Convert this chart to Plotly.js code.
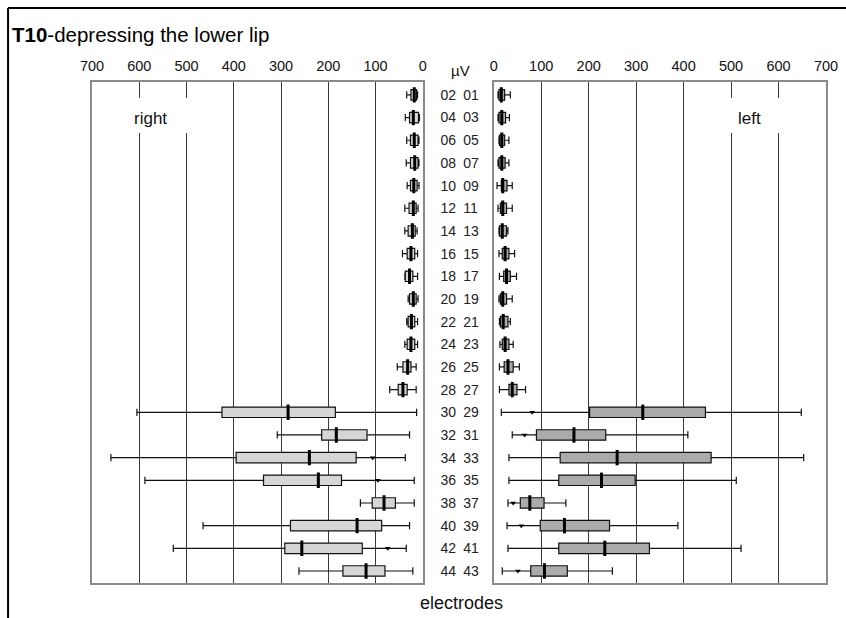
<!DOCTYPE html>
<html>
<head>
<meta charset="utf-8">
<script src="https://cdn.plot.ly/plotly-3.0.1.min.js"></script>
<style>html,body{margin:0;padding:0;background:#fff;}#chart{width:846px;height:618px;}</style>
</head>
<body>
<div id="chart"></div>
<script>
// electrode pair labels (top to bottom)
const categories = ["02 01","04 03","06 05","08 07","10 09","12 11","14 13","16 15","18 17","20 19","22 21",
  "24 23","26 25","28 27","30 29","32 31","34 33","36 35","38 37","40 39","42 41","44 43"];

// "right" side (left panel) box statistics, µV
const rightMin = [11, 7, 8, 8, 8, 10, 12, 11, 11, 10, 11, 11, 14, 14, 13, 28, 37, 18, 18, 28, 35, 21];
const rightQ1  = [13, 9, 10, 10, 12, 14, 16, 17, 21, 14, 17, 17, 25, 33, 185, 118, 141, 172, 58, 87, 128, 80];
const rightMed = [18, 20, 18, 17, 19, 20, 22, 25, 28, 20, 24, 25, 32, 42, 285, 183, 240, 221, 82, 139, 256, 120];
const rightQ3  = [25, 28, 26, 26, 26, 29, 31, 33, 37, 28, 31, 33, 42, 52, 425, 214, 395, 337, 107, 280, 292, 169];
const rightMax = [34, 37, 34, 35, 33, 38, 38, 43, 38, 31, 34, 38, 54, 70, 605, 308, 660, 588, 132, 465, 528, 262];
const rightDotCats = ["34 33", "36 35", "42 41"];
const rightDotVals = [106, 95, 74];

// "left" side (right panel) box statistics, µV
const leftMin = [9, 9, 11, 9, 7, 9, 11, 11, 12, 11, 12, 13, 12, 12, 16, 39, 32, 32, 30, 28, 30, 18];
const leftQ1  = [11, 11, 12, 11, 16, 14, 12, 18, 21, 14, 14, 18, 22, 32, 202, 90, 140, 137, 56, 98, 137, 78];
const leftMed = [16, 17, 17, 17, 19, 19, 18, 24, 27, 19, 20, 24, 30, 39, 314, 169, 260, 227, 76, 149, 234, 107];
const leftQ3  = [23, 25, 23, 24, 28, 27, 27, 32, 35, 27, 30, 32, 41, 49, 446, 236, 458, 298, 106, 244, 328, 155];
const leftMax = [35, 33, 32, 32, 39, 39, 30, 44, 48, 39, 35, 41, 54, 67, 648, 409, 653, 511, 152, 388, 521, 250];
const leftDotCats = ["30 29", "32 31", "38 37", "40 39", "44 43"];
const leftDotVals = [81, 65, 41, 58, 51];

const tickVals = [0, 100, 200, 300, 400, 500, 600, 700];
const tickText = ["0", "100", "200", "300", "400", "500", "600", "700"];

const FONT = "Liberation Sans, Arial, Helvetica, sans-serif";
const lineCol = "#111";

function boxTrace(xa, ya, q1, med, q3, lo, hi, fill) {
  return {
    type: "box", orientation: "h", xaxis: xa, yaxis: ya,
    y: categories, q1: q1, median: med, q3: q3, lowerfence: lo, upperfence: hi,
    fillcolor: fill, line: {color: lineCol, width: 1.2},
    width: 0.46, whiskerwidth: 0.7, boxpoints: false, hoverinfo: "skip", showlegend: false
  };
}
function medTrace(xa, ya, med) {
  return {
    type: "scatter", mode: "markers", xaxis: xa, yaxis: ya, x: med, y: categories,
    marker: {symbol: "line-ns", size: 11, line: {width: 3, color: "#000"}},
    hoverinfo: "skip", showlegend: false
  };
}
function dotTrace(xa, ya, cats, vals) {
  return {
    type: "scatter", mode: "markers", xaxis: xa, yaxis: ya, x: vals, y: cats,
    marker: {symbol: "triangle-down", size: 5, color: "#000"},
    hoverinfo: "skip", showlegend: false
  };
}

const data = [
  boxTrace("x", "y", rightQ1, rightMed, rightQ3, rightMin, rightMax, "#d6d6d6"),
  medTrace("x", "y", rightMed),
  dotTrace("x", "y", rightDotCats, rightDotVals),
  boxTrace("x2", "y2", leftQ1, leftMed, leftQ3, leftMin, leftMax, "#ababab"),
  medTrace("x2", "y2", leftMed),
  dotTrace("x2", "y2", leftDotCats, leftDotVals)
];

const xCommon = {
  side: "top", tickvals: tickVals, ticktext: tickText, ticks: "",
  tickfont: {family: FONT, size: 14.5, color: "#111"}, ticklabelstandoff: 3,
  showgrid: true, gridcolor: "#3a3a3a", gridwidth: 1, zeroline: false,
  showline: true, mirror: true, linecolor: "#8a8a8a", linewidth: 2, fixedrange: true
};
const yRange = [21.53, -0.57];
const ticksY = categories.map(c => c.replace(" ", "\u2002"));

const L = 92, R = 19.5, W = 846 - L - R;
const px = v => (v - L) / W;
const T = 82, B = 583, H = B - T;
const py = v => (B - v) / H;

const layout = {
  width: 846, height: 618,
  margin: {l: L, r: R, t: T, b: 618 - B, pad: 0},
  paper_bgcolor: "#fff", plot_bgcolor: "#fff",
  font: {family: FONT, color: "#111"},
  showlegend: false, hovermode: false,
  title: {
    text: "<b>T10</b>-depressing the lower lip",
    xref: "container", x: 12 / 846, xanchor: "left",
    yref: "container", y: 1 - 35 / 618, yanchor: "middle",
    font: {family: FONT, size: 20.5, color: "#000"}
  },
  xaxis: Object.assign({}, xCommon, {domain: [0, px(423)], range: [700, 0], anchor: "y"}),
  xaxis2: Object.assign({}, xCommon, {domain: [px(494), 1], range: [0, 700], anchor: "y2"}),
  yaxis: {
    type: "category", categoryarray: categories, categoryorder: "array",
    range: yRange, anchor: "x", side: "right",
    tickvals: categories, ticktext: ticksY, ticks: "",
    tickfont: {family: FONT, size: 14, color: "#222"}, ticklabelstandoff: 13,
    showgrid: false, zeroline: false,
    showline: true, mirror: true, linecolor: "#8a8a8a", linewidth: 2, fixedrange: true
  },
  yaxis2: {
    type: "category", categoryarray: categories, categoryorder: "array",
    range: yRange, anchor: "x2", matches: "y", showticklabels: false, ticks: "",
    showgrid: false, zeroline: false,
    showline: true, mirror: true, linecolor: "#8a8a8a", linewidth: 2, fixedrange: true
  },
  shapes: [
    {type: "rect", xref: "paper", yref: "paper", x0: px(130), x1: px(192), y0: py(133), y1: py(98),
     fillcolor: "#fff", line: {width: 0}, layer: "above"},
    {type: "rect", xref: "paper", yref: "paper", x0: px(726), x1: px(784), y0: py(133), y1: py(98),
     fillcolor: "#fff", line: {width: 0}, layer: "above"},
    {type: "line", xref: "paper", yref: "paper", x0: px(8), x1: px(8), y0: py(8), y1: py(630),
     line: {color: "#000", width: 2}},
    {type: "line", xref: "paper", yref: "paper", x0: px(8), x1: px(850), y0: py(8), y1: py(8),
     line: {color: "#000", width: 2}}
  ],
  annotations: [
    {text: "µV", xref: "paper", yref: "paper", x: px(461), y: py(70), showarrow: false,
     xanchor: "center", yanchor: "middle", font: {family: FONT, size: 15, color: "#111"}},
    {text: "electrodes", xref: "paper", yref: "paper", x: px(462), y: py(603), showarrow: false,
     xanchor: "center", yanchor: "middle", font: {family: FONT, size: 18, color: "#111"}},
    {text: "right", xref: "paper", yref: "paper", x: px(151), y: py(118), showarrow: false,
     xanchor: "center", yanchor: "middle", font: {family: FONT, size: 17, color: "#111"}},
    {text: "left", xref: "paper", yref: "paper", x: px(750), y: py(118), showarrow: false,
     xanchor: "center", yanchor: "middle", font: {family: FONT, size: 17, color: "#111"}}
  ]
};

Plotly.newPlot("chart", data, layout, {staticPlot: true, displayModeBar: false});
</script>
</body>
</html>
